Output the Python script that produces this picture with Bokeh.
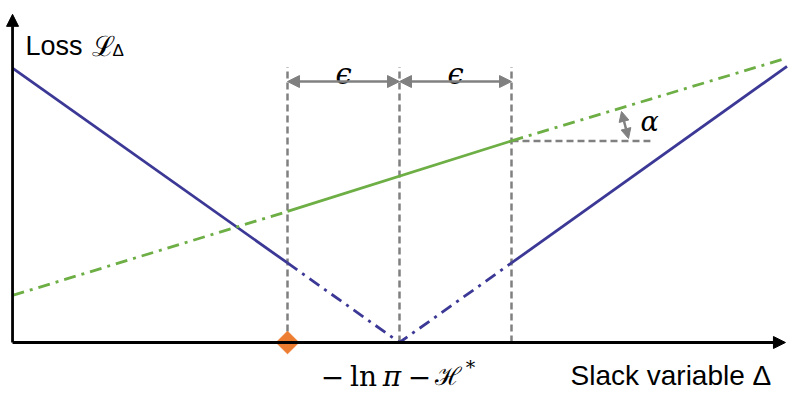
import numpy as np
from bokeh.plotting import figure
from bokeh.models import Range1d, Arrow, NormalHead
from bokeh.core.properties import value
from bokeh.embed import file_html
from bokeh.resources import INLINE

# ---- data (units: epsilon = 1, origin at -ln pi - H*) ----
center = 0.0
eps = 1.0
blue_x = [-3.455, -1.0, 0.0, 1.0, 3.46]
blue_y = [2.45, 0.71, 0.0, 0.71, 2.465]
green_x = [-3.455, -1.0, 1.0, 3.46]
green_y = [0.42, 1.17, 1.80, 2.54]
marker_x = [-1.0]
marker_y = [0.0]
guide_x = [center - eps, center, center + eps]
guide_top = 2.46
eps_arrow_y = 2.33
alpha_ref_end = 2.24
x_axis_end = 3.446
y_axis_end = 2.93
x_label = "Slack variable Δ"
y_label = "Loss"
y_label_sym = "ℒ"
y_label_sub = "Δ"
center_parts = ["−", "ln", "π", "−", "ℋ", "*"]
eps_label = "ϵ"
alpha_label = "α"

# ---- canvas geometry ----
W, H = 789, 394
S = 112.0  # pixels per unit
ox, oy = 399.0, 342.0  # canvas pixel position of (0, 0)


def X(px):
    return (px - ox) / S


def Y(py):
    return (oy - py) / S


p = figure(width=W, height=H, output_backend="svg", toolbar_location=None,
           x_range=Range1d(X(0), X(W)), y_range=Range1d(Y(H), Y(0)),
           min_border=0, outline_line_color=None)
p.xaxis.visible = False
p.yaxis.visible = False
p.grid.visible = False
p.background_fill_color = "white"
p.border_fill_color = "white"

BLUE = "#3C3896"
GREEN = "#6DAE45"
GRAY = "#808080"
ORANGE = "#ED7D31"
DASHDOT = "12 6 3 6"
LW = 2.8

# guides
p.segment(x0=guide_x, y0=[0] * 3, x1=guide_x, y1=[guide_top] * 3,
          line_color=GRAY, line_width=2.5, line_dash="7 4")
p.segment(x0=[guide_x[2]], y0=[green_y[2]], x1=[alpha_ref_end], y1=[green_y[2]],
          line_color=GRAY, line_width=2.5, line_dash="7 4")

# blue loss
p.line(blue_x[0:2], blue_y[0:2], line_color=BLUE, line_width=LW)
p.line(blue_x[1:4], blue_y[1:4], line_color=BLUE, line_width=LW, line_dash=DASHDOT)
p.line(blue_x[3:5], blue_y[3:5], line_color=BLUE, line_width=LW)

# green loss
p.line(green_x[0:2], green_y[0:2], line_color=GREEN, line_width=LW, line_dash=DASHDOT)
p.line(green_x[1:3], green_y[1:3], line_color=GREEN, line_width=LW)
p.line(green_x[2:4], green_y[2:4], line_color=GREEN, line_width=LW, line_dash=DASHDOT)

# axes
ax0 = blue_x[0]
p.add_layout(Arrow(x_start=ax0, y_start=0, x_end=ax0, y_end=y_axis_end,
                   line_color="black", line_width=2.8,
                   end=NormalHead(size=12, fill_color="black", line_color="black")))
p.add_layout(Arrow(x_start=ax0, y_start=0, x_end=x_axis_end, y_end=0,
                   line_color="black", line_width=2.8,
                   end=NormalHead(size=12, fill_color="black", line_color="black")))

# epsilon arrows
for a, b in [(guide_x[0], guide_x[1]), (guide_x[1], guide_x[2])]:
    p.add_layout(Arrow(x_start=a, y_start=eps_arrow_y, x_end=b, y_end=eps_arrow_y,
                       line_color=GRAY, line_width=2.5,
                       start=NormalHead(size=12, fill_color=GRAY, line_color=GRAY),
                       end=NormalHead(size=12, fill_color=GRAY, line_color=GRAY)))

# alpha arrow
p.add_layout(Arrow(x_start=X(621), y_start=Y(111), x_end=X(628), y_end=Y(138),
                   line_color=GRAY, line_width=2.5,
                   start=NormalHead(size=10, fill_color=GRAY, line_color=GRAY),
                   end=NormalHead(size=10, fill_color=GRAY, line_color=GRAY)))

# marker
p.scatter(marker_x, marker_y, marker="square", angle=np.pi / 4, size=16,
          fill_color=ORANGE, line_color=ORANGE)

# texts
p.text(x=[(guide_x[0] + guide_x[1]) / 2, (guide_x[1] + guide_x[2]) / 2],
       y=[Y(73)] * 2, text=[eps_label] * 2,
       text_font=value("DejaVu Serif"), text_font_style="italic",
       text_font_size="29px", text_align="center", text_baseline="middle",
       text_color="black")
p.text(x=[X(649)], y=[Y(121)], text=[alpha_label],
       text_font=value("DejaVu Serif"), text_font_style="italic",
       text_font_size="27px", text_align="center", text_baseline="middle",
       text_color="black")

# centre label, piece by piece (centred on each piece's ink)
cx = [X(332), X(363), X(391.5), X(419), X(447), X(470)]
cy = [Y(376)] * 5 + [Y(366)]
cstyle = ["normal", "normal", "italic", "normal", "normal", "normal"]
csize = ["28px", "28px", "28px", "28px", "25px", "19px"]
for t, x, y, st, sz in zip(center_parts, cx, cy, cstyle, csize):
    p.text(x=[x], y=[y], text=[t], text_font=value("DejaVu Serif"),
           text_font_style=st, text_font_size=sz, text_align="center",
           text_baseline="alphabetic", text_color="black")

p.text(x=[X(570)], y=[Y(375)], text=[x_label],
       text_font=value("Liberation Sans"), text_font_size="28px",
       text_align="left", text_baseline="alphabetic", text_color="black")
p.text(x=[X(25)], y=[Y(45)], text=[y_label],
       text_font=value("Liberation Sans"), text_font_size="27px",
       text_align="left", text_baseline="alphabetic", text_color="black")
p.text(x=[X(91)], y=[Y(46)], text=[y_label_sym],
       text_font=value("DejaVu Serif"), text_font_size="28px",
       text_align="left", text_baseline="alphabetic", text_color="black")
p.text(x=[X(112)], y=[Y(50)], text=[y_label_sub],
       text_font=value("Liberation Sans"), text_font_size="17px",
       text_align="left", text_baseline="alphabetic", text_color="black")

open("out.html", "w").write(file_html(p, INLINE))
